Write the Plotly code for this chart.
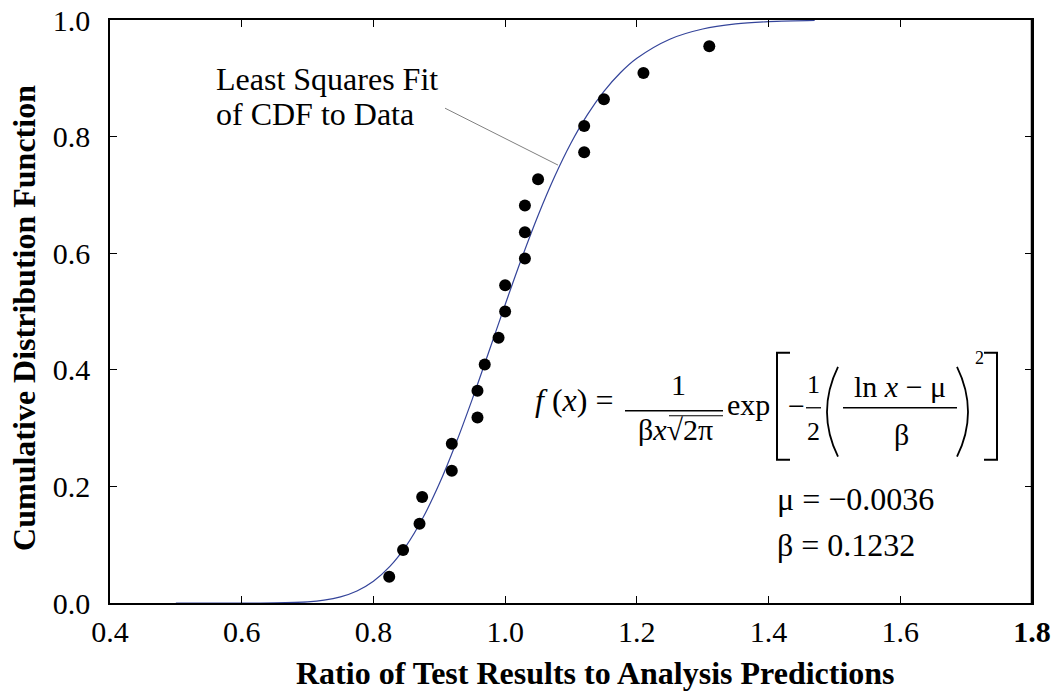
import plotly.graph_objects as go

# ---- data ----
data_x = [0.824, 0.845, 0.870, 0.874, 0.919, 0.919, 0.958, 0.958, 0.969, 0.990, 1.000,
          1.000, 1.030, 1.030, 1.030, 1.050, 1.120, 1.120, 1.150, 1.210, 1.310]
data_y = [0.045, 0.091, 0.136, 0.182, 0.227, 0.273, 0.318, 0.364, 0.409, 0.455, 0.500,
          0.545, 0.591, 0.636, 0.682, 0.727, 0.773, 0.818, 0.864, 0.909, 0.955]

fit_x = [0.50, 0.60, 0.65, 0.70, 0.725, 0.75, 0.775, 0.80, 0.825, 0.85, 0.875, 0.90, 0.925,
         0.95, 0.975, 1.00, 1.025, 1.05, 1.075, 1.10, 1.125, 1.15, 1.175, 1.20, 1.25,
         1.30, 1.35, 1.40, 1.47]
fit_y = [0.0, 0.00002, 0.0003, 0.0021, 0.0049, 0.0106, 0.0207, 0.0374, 0.0628, 0.0985,
         0.1458, 0.2044, 0.2731, 0.3493, 0.4300, 0.5117, 0.5908, 0.6647, 0.7311, 0.7890,
         0.8377, 0.8777, 0.9096, 0.9344, 0.9671, 0.9846, 0.9932, 0.9971, 0.9992]

x_ticks = [0.4, 0.6, 0.8, 1.0, 1.2, 1.4, 1.6, 1.8]
x_ticklabels = ["0.4", "0.6", "0.8", "1.0", "1.2", "1.4", "1.6", "<b>1.8</b>"]
y_ticks = [0.0, 0.2, 0.4, 0.6, 0.8, 1.0]
y_ticklabels = ["0.0", "0.2", "0.4", "0.6", "0.8", "1.0"]

x_title = "Ratio of Test Results to Analysis Predictions"
y_title = "Cumulative Distribution Function"

W, H = 1055, 694
L, R, T, B = 110, 1032, 19.7, 603.5
SERIF = "Liberation Serif"


def px(x):
    return (x - L) / (R - L)


def py(y):
    return (B - y) / (B - T)


fig = go.Figure()
fig.add_trace(go.Scatter(x=fit_x, y=fit_y, mode="lines", line_shape="spline",
                         line=dict(color="#34449a", width=1.2), hoverinfo="skip"))
fig.add_trace(go.Scatter(x=data_x, y=data_y, mode="markers",
                         marker=dict(color="black", size=12, symbol="circle")))

ann = []


def text(x, y, s, size=32, xa="center", ya="middle", angle=0):
    ann.append(dict(x=px(x), y=py(y), xref="paper", yref="paper", text=s, showarrow=False,
                    xanchor=xa, yanchor=ya, textangle=angle,
                    font=dict(family=SERIF, size=size, color="black")))


shapes = []


def line(x0, y0, x1, y1, w=1.5, c="black"):
    shapes.append(dict(type="line", xref="paper", yref="paper", x0=px(x0), y0=py(y0),
                       x1=px(x1), y1=py(y1), line=dict(color=c, width=w)))


def path(d_items, w=1.8):
    d = ""
    for cmd, coords in d_items:
        d += cmd + " " + " ".join(f"{px(a):.5f},{py(b):.5f}" for a, b in coords) + " "
    shapes.append(dict(type="path", xref="paper", yref="paper", path=d.strip(),
                       line=dict(color="black", width=w)))


# axis titles
text(595, 674, "<b>" + x_title + "</b>", size=32)
text(24, 318, "<b>" + y_title + "</b>", size=32, angle=-90)

# label + leader
text(214, 79, "Least Squares Fit", xa="left")
text(214, 114, "of CDF to Data", xa="left")
line(445, 108, 558, 165, w=1, c="#808080")

# equation
text(574, 400, "<i>f</i> (<i>x</i>) =")
text(678, 385, "1", size=30)
line(625, 411, 723, 411, w=1.5)
text(675, 430, "β<i>x</i>√2π", size=30)
line(669, 416, 723, 416, w=1)
text(748, 405, "exp", size=30)
path([("M", [(790, 353)]), ("L", [(777, 353)]), ("L", [(777, 460)]), ("L", [(790, 460)])], w=2)
text(796, 406, "−", size=30)
text(813, 385, "1", size=26)
line(806, 408, 821, 408, w=1.3)
text(813, 432, "2", size=26)
path([("M", [(838, 367)]), ("Q", [(816, 412), (838, 457)])], w=1.8)
text(900, 387, "ln <i>x</i> − μ", size=30)
line(843, 408, 957, 408, w=1.5)
text(901, 435, "β", size=30)
path([("M", [(957, 367)]), ("Q", [(979, 412), (957, 457)])], w=1.8)
text(979, 358, "2", size=18)
path([("M", [(984, 353)]), ("L", [(997, 353)]), ("L", [(997, 460)]), ("L", [(984, 460)])], w=2)

text(775, 499, "μ = −0.0036", xa="left")
text(775, 545, "β = 0.1232", xa="left")

# thicker right border
line(R, T, R, B, w=2.5)

axis_common = dict(showgrid=False, zeroline=False, showline=True, linecolor="black",
                   linewidth=1.5, mirror="ticks", ticks="inside", ticklen=7,
                   tickcolor="black", tickwidth=1, automargin=False,
                   tickfont=dict(family=SERIF, size=30, color="black"))

fig.update_layout(
    width=W, height=H,
    margin=dict(l=L, r=W - R, t=T, b=H - B, autoexpand=False),
    plot_bgcolor="white", paper_bgcolor="white",
    showlegend=False,
    annotations=ann, shapes=shapes,
    xaxis=dict(range=[0.4, 1.8], tickvals=x_ticks, ticktext=x_ticklabels,
               ticklabelstandoff=1, **axis_common),
    yaxis=dict(range=[0, 1.0], tickvals=y_ticks, ticktext=y_ticklabels,
               ticklabelstandoff=12, **axis_common),
)

fig.write_html("out.html", config={"displayModeBar": False},
               post_script="document.body.style.margin='0px';")
